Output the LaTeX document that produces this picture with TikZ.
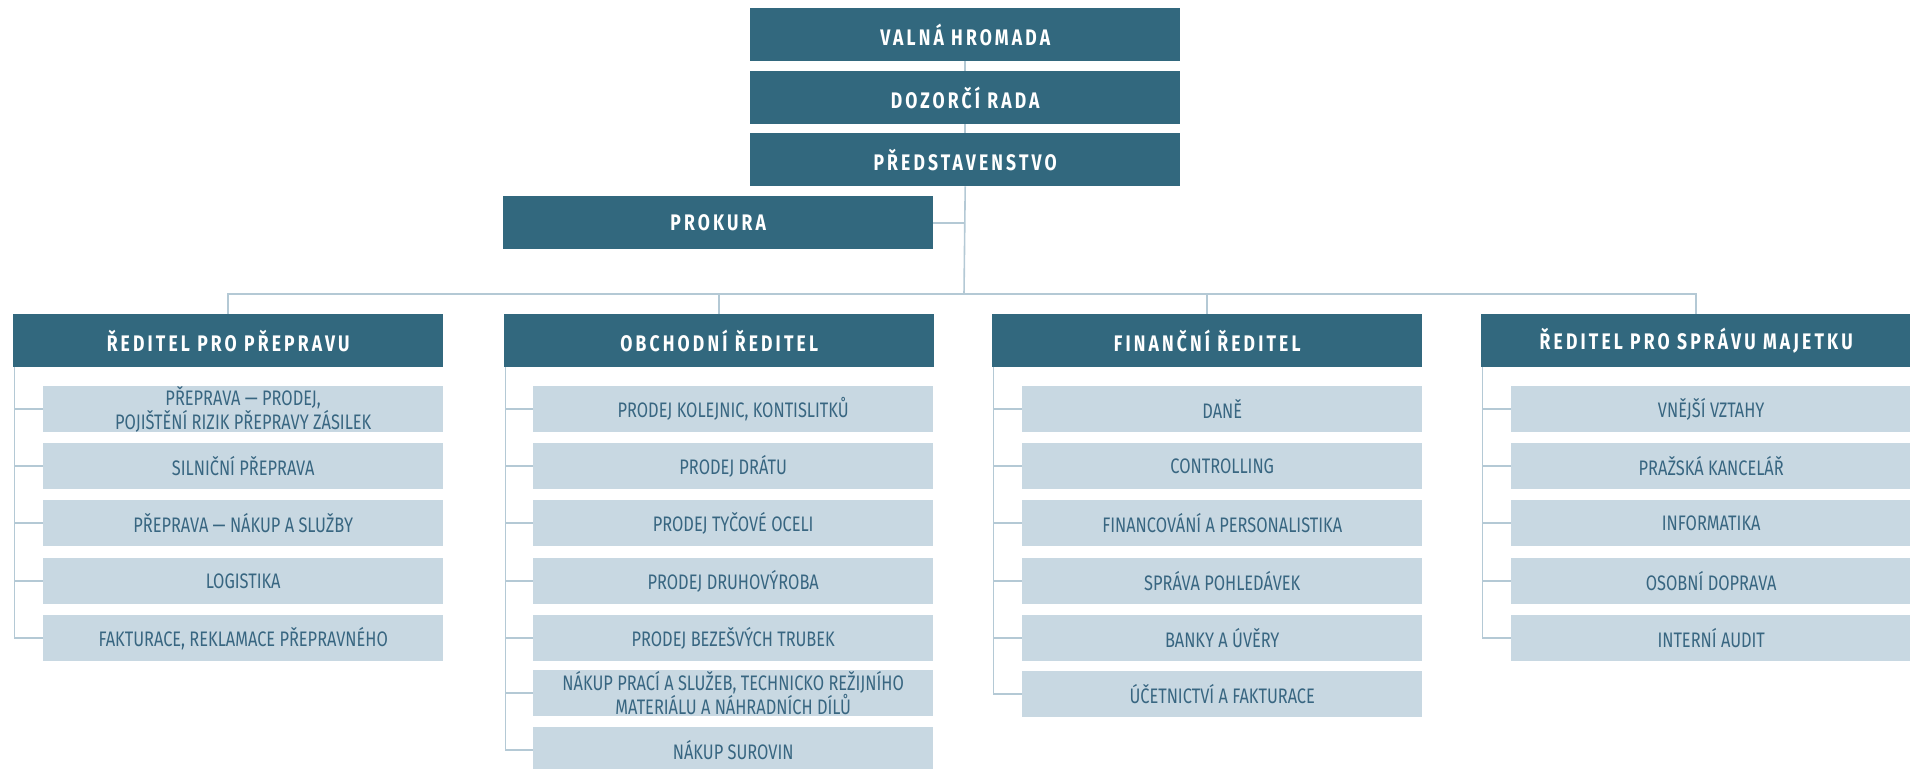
\documentclass[tikz,border=0pt]{standalone}
\usepackage{fontspec}
\setmainfont{Fira Sans}[FakeStretch=0.78]
\newfontfamily\hdrfont{Fira Sans}[FakeStretch=0.78,LetterSpace=14]
\definecolor{dark}{HTML}{32687E}
\definecolor{light}{HTML}{C8D8E2}
\definecolor{ltext}{HTML}{386681}
\definecolor{conn}{HTML}{B4C9D5}
\begin{document}
\begin{tikzpicture}[x=1pt,y=-1pt,
  hdr/.style={anchor=north west,fill=dark,text=white,minimum width=430pt,minimum height=53pt,inner sep=0pt,font=\hdrfont\bfseries\fontsize{22.5}{26}\selectfont},
  sub/.style={anchor=north west,fill=light,text=ltext,minimum width=400pt,minimum height=46pt,inner sep=0pt,align=center,font=\fontsize{21}{21.5}\selectfont},
  conline/.style={draw=conn,line width=1.6pt}]
\useasboundingbox (0,0) rectangle (1910,768);
% top
\node[hdr,minimum width=430pt] (vh) at (750,8) {VALNÁ HROMADA};
\node[hdr] (dr) at (750,71) {DOZORČÍ RADA};
\node[hdr] (pr) at (750,133) {PŘEDSTAVENSTVO};
\node[hdr] (pk) at (503,196) {PROKURA};
\coordinate (bus) at (964,294);
% headers
\node[hdr] (h1) at (13,314) {ŘEDITEL PRO PŘEPRAVU};
\node[hdr] (h2) at (504,314) {OBCHODNÍ ŘEDITEL};
\node[hdr] (h3) at (992,314) {FINANČNÍ ŘEDITEL};
\node[hdr] (h4) at (1481,314) {ŘEDITEL PRO SPRÁVU MAJETKU};
% column 1
\node[sub] (a1) at (43,386) {PŘEPRAVA — PRODEJ,\\POJIŠTĚNÍ RIZIK PŘEPRAVY ZÁSILEK};
\node[sub] (a2) at (43,443) {SILNIČNÍ PŘEPRAVA};
\node[sub] (a3) at (43,500) {PŘEPRAVA — NÁKUP A SLUŽBY};
\node[sub] (a4) at (43,558) {LOGISTIKA};
\node[sub] (a5) at (43,615) {FAKTURACE, REKLAMACE PŘEPRAVNÉHO};
% column 2
\node[sub] (b1) at (533,386) {PRODEJ KOLEJNIC, KONTISLITKŮ};
\node[sub] (b2) at (533,443) {PRODEJ DRÁTU};
\node[sub] (b3) at (533,500) {PRODEJ TYČOVÉ OCELI};
\node[sub] (b4) at (533,558) {PRODEJ DRUHOVÝROBA};
\node[sub] (b5) at (533,615) {PRODEJ BEZEŠVÝCH TRUBEK};
\node[sub] (b6) at (533,670) {NÁKUP PRACÍ A SLUŽEB, TECHNICKO REŽIJNÍHO\\MATERIÁLU A NÁHRADNÍCH DÍLŮ};
\node[sub] (b7) at (533,727) {NÁKUP SUROVIN};
% column 3
\node[sub] (c1) at (1022,386) {DANĚ};
\node[sub] (c2) at (1022,443) {CONTROLLING};
\node[sub] (c3) at (1022,500) {FINANCOVÁNÍ A PERSONALISTIKA};
\node[sub] (c4) at (1022,558) {SPRÁVA POHLEDÁVEK};
\node[sub] (c5) at (1022,615) {BANKY A ÚVĚRY};
\node[sub] (c6) at (1022,671) {ÚČETNICTVÍ A FAKTURACE};
% column 4
\node[sub] (d1) at (1511,386) {VNĚJŠÍ VZTAHY};
\node[sub] (d2) at (1511,443) {PRAŽSKÁ KANCELÁŘ};
\node[sub] (d3) at (1511,500) {INFORMATIKA};
\node[sub] (d4) at (1511,558) {OSOBNÍ DOPRAVA};
\node[sub] (d5) at (1511,615) {INTERNÍ AUDIT};
% connectors
\draw[conline] (vh.south) -- (dr.north);
\draw[conline] (dr.south) -- (pr.north);
\draw[conline] (pr.south) -- (bus);
\draw[conline] (pk.east) -- (pk.east -| bus);
\draw[conline] (h1.north) |- (bus);
\draw[conline] (h4.north) |- (bus);
\draw[conline] (h2.north) -- (h2.north |- bus);
\draw[conline] (h3.north) -- (h3.north |- bus);
\foreach \h/\list in {h1/{a1,a2,a3,a4,a5},h2/{b1,b2,b3,b4,b5,b6,b7},h3/{c1,c2,c3,c4,c5,c6},h4/{d1,d2,d3,d4,d5}}{
  \foreach \c in \list {
    \draw[conline] ([xshift=1.5pt]\h.south west) |- (\c.west);
  }
}
\end{tikzpicture}
\end{document}
